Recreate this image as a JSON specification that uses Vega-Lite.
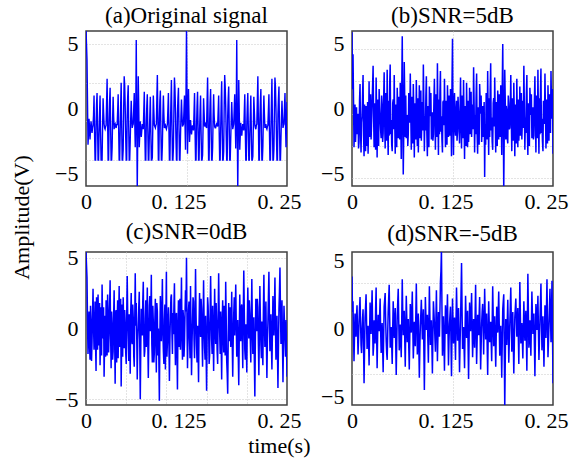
{
"$schema": "https://vega.github.io/schema/vega-lite/v6.json",
"background": "white",
"padding": {"left": 10, "top": 4, "right": 5, "bottom": 5},
"title": {"text": "Amplitude(V)", "orient": "left", "anchor": "middle", "fontSize": 22, "offset": 20, "dx": 13},
"data": {"values": [
{"t":0,"a":6.2,"b":5.9,"c":5.4,"d":3.8},
{"t":0.000625,"a":5.0,"b":1.5,"c":4.5,"d":1.2},
{"t":0.00125,"a":3.8,"b":4.2,"c":3.6,"d":2.0},
{"t":0.001875,"a":0.5,"b":0.8,"c":0.5,"d":-0.6},
{"t":0.0025,"a":-2.8,"b":-3.0,"c":-1.8,"d":-2.4},
{"t":0.003125,"a":-2.0,"b":-1.2,"c":-0.4,"d":-0.5},
{"t":0.00375,"a":-0.8,"b":0.3,"c":1.2,"d":1.1},
{"t":0.004375,"a":-1.5,"b":-2.6,"c":-1.0,"d":0.2},
{"t":0.005,"a":-2.4,"b":-1.5,"c":-2.2,"d":-0.6},
{"t":0.005625,"a":-1.6,"b":0.1,"c":1.6,"d":0.9},
{"t":0.00625,"a":-1.0,"b":-2.0,"c":0.4,"d":1.7},
{"t":0.006875,"a":-1.4,"b":-0.9,"c":-2.3,"d":-0.2},
{"t":0.0075,"a":-1.9,"b":-0.4,"c":-0.9,"d":-1.9},
{"t":0.008125,"a":-1.5,"b":-3.1,"c":1.0,"d":-0.8},
{"t":0.00875,"a":-1.3,"b":-2.6,"c":2.8,"d":0.5},
{"t":0.009375,"a":-0.5,"b":0.6,"c":0.2,"d":1.5},
{"t":0.01,"a":1.0,"b":1.9,"c":-1.5,"d":2.3},
{"t":0.010625,"a":-1.8,"b":-1.8,"c":-0.2,"d":0.5},
{"t":0.01125,"a":-4.0,"b":-3.4,"c":1.9,"d":-1.2},
{"t":0.011875,"a":-4.0,"b":-1.1,"c":-1.0,"d":-1.8},
{"t":0.0125,"a":-1.5,"b":-0.6,"c":-3.0,"d":-0.3},
{"t":0.013125,"a":0.3,"b":0.9,"c":2.2,"d":0.7},
{"t":0.01375,"a":1.2,"b":2.6,"c":0.6,"d":1.4},
{"t":0.014375,"a":-1.5,"b":-2.0,"c":-1.5,"d":-1.4},
{"t":0.015,"a":-4.0,"b":-3.7,"c":2.4,"d":-4.0},
{"t":0.015625,"a":-4.0,"b":0.3,"c":0.1,"d":-1.5},
{"t":0.01625,"a":-2.0,"b":-1.2,"c":-1.2,"d":0.8},
{"t":0.016875,"a":-0.3,"b":-3.3,"c":1.8,"d":1.6},
{"t":0.0175,"a":1.0,"b":0.2,"c":-2.6,"d":2.5},
{"t":0.018125,"a":-1.8,"b":-1.0,"c":-0.6,"d":0.4},
{"t":0.01875,"a":-4.0,"b":-2.9,"c":1.5,"d":-1.5},
{"t":0.019375,"a":-4.0,"b":0.5,"c":-1.9,"d":-0.7},
{"t":0.02,"a":-4.0,"b":-3.5,"c":3.1,"d":0.2},
{"t":0.020625,"a":-1.5,"b":-1.4,"c":0.8,"d":-1.0},
{"t":0.02125,"a":0.8,"b":2.1,"c":-0.7,"d":-2.7},
{"t":0.021875,"a":-0.3,"b":-2.2,"c":1.5,"d":-0.3},
{"t":0.0225,"a":-1.2,"b":-0.3,"c":-3.4,"d":1.9},
{"t":0.023125,"a":-1.5,"b":1.1,"c":-1.1,"d":0.8},
{"t":0.02375,"a":-1.6,"b":-2.4,"c":0.9,"d":-0.4},
{"t":0.024375,"a":-1.4,"b":-1.0,"c":-2.0,"d":1.2},
{"t":0.025,"a":-1.3,"b":0.4,"c":2.0,"d":2.8},
{"t":0.025625,"a":0.5,"b":1.8,"c":0.3,"d":0.3},
{"t":0.02625,"a":2.3,"b":3.3,"c":-1.9,"d":-2.0},
{"t":0.026875,"a":-1.0,"b":-0.6,"c":2.4,"d":-1.3},
{"t":0.0275,"a":-4.0,"b":-3.0,"c":1.1,"d":0.6},
{"t":0.028125,"a":-4.0,"b":0.4,"c":-1.7,"d":-0.2},
{"t":0.02875,"a":-1.0,"b":-1.9,"c":-0.3,"d":-1.1},
{"t":0.029375,"a":0.6,"b":-3.2,"c":1.6,"d":1.4},
{"t":0.03,"a":1.6,"b":2.4,"c":3.4,"d":3.0},
{"t":0.030625,"a":-1.5,"b":-0.4,"c":-0.5,"d":-0.4},
{"t":0.03125,"a":-4.0,"b":-3.8,"c":-2.8,"d":-2.9},
{"t":0.031875,"a":-4.0,"b":0.7,"c":1.2,"d":-0.6},
{"t":0.0325,"a":-3.0,"b":-1.6,"c":0.2,"d":1.0},
{"t":0.033125,"a":-0.8,"b":-2.9,"c":-2.2,"d":0.5},
{"t":0.03375,"a":0.9,"b":1.5,"c":-1.6,"d":-0.2},
{"t":0.034375,"a":-0.6,"b":0.2,"c":0.9,"d":1.0},
{"t":0.035,"a":-1.6,"b":-0.8,"c":2.7,"d":2.2},
{"t":0.035625,"a":-1.3,"b":-1.7,"c":-0.6,"d":-0.2},
{"t":0.03625,"a":-1.2,"b":-2.3,"c":-3.9,"d":-1.8},
{"t":0.036875,"a":-1.4,"b":1.0,"c":1.1,"d":-0.8},
{"t":0.0375,"a":-1.5,"b":0.2,"c":1.3,"d":0.4},
{"t":0.038125,"a":-1.2,"b":-2.6,"c":-2.4,"d":-1.5},
{"t":0.03875,"a":-1.3,"b":-1.9,"c":0.5,"d":-3.2},
{"t":0.039375,"a":-0.2,"b":0.8,"c":2.0,"d":-0.6},
{"t":0.04,"a":1.1,"b":2.8,"c":-2.1,"d":1.6},
{"t":0.040625,"a":-1.6,"b":-0.9,"c":0.6,"d":2.1},
{"t":0.04125,"a":-4.0,"b":-3.1,"c":3.0,"d":2.6},
{"t":0.041875,"a":-4.0,"b":1.2,"c":-1.3,"d":0.6},
{"t":0.0425,"a":-1.8,"b":-0.7,"c":-0.8,"d":-0.9},
{"t":0.043125,"a":0.3,"b":-2.5,"c":2.1,"d":-1.8},
{"t":0.04375,"a":2.0,"b":3.0,"c":-4.1,"d":-2.3},
{"t":0.044375,"a":-1.2,"b":-1.4,"c":-0.5,"d":-0.5},
{"t":0.045,"a":-4.0,"b":-3.6,"c":1.7,"d":1.2},
{"t":0.045625,"a":-4.0,"b":0.6,"c":-2.0,"d":2.2},
{"t":0.04625,"a":-3.2,"b":-2.1,"c":2.2,"d":3.2},
{"t":0.046875,"a":0.0,"b":1.9,"c":0.4,"d":0.8},
{"t":0.0475,"a":2.5,"b":3.4,"c":-1.4,"d":-1.4},
{"t":0.048125,"a":1.8,"b":-2.0,"c":1.3,"d":-0.7},
{"t":0.04875,"a":0.2,"b":-0.9,"c":0.3,"d":0.1},
{"t":0.049375,"a":-2.2,"b":-2.8,"c":-1.7,"d":-1.2},
{"t":0.05,"a":-4.0,"b":-3.3,"c":-2.5,"d":-2.6},
{"t":0.050625,"a":-4.0,"b":0.4,"c":0.9,"d":-0.1},
{"t":0.05125,"a":-0.5,"b":0.7,"c":3.7,"d":2.0},
{"t":0.051875,"a":0.9,"b":-1.6,"c":1.0,"d":0.6},
{"t":0.0525,"a":1.8,"b":2.6,"c":-0.6,"d":-0.7},
{"t":0.053125,"a":-1.4,"b":-0.8,"c":-2.3,"d":0.4},
{"t":0.05375,"a":-4.0,"b":-3.5,"c":1.0,"d":1.5},
{"t":0.054375,"a":-4.0,"b":0.3,"c":-0.2,"d":-1.1},
{"t":0.055,"a":-2.5,"b":-1.1,"c":-3.2,"d":-3.4},
{"t":0.055625,"a":-0.8,"b":-3.0,"c":1.2,"d":-1.2},
{"t":0.05625,"a":0.6,"b":1.6,"c":2.5,"d":0.9},
{"t":0.056875,"a":-0.6,"b":-0.2,"c":-0.8,"d":1.9},
{"t":0.0575,"a":-1.5,"b":-2.3,"c":-1.1,"d":2.9},
{"t":0.058125,"a":-1.3,"b":0.9,"c":1.7,"d":0.6},
{"t":0.05875,"a":-1.2,"b":-0.1,"c":0.8,"d":-1.6},
{"t":0.059375,"a":0.0,"b":-2.4,"c":-1.9,"d":-0.8},
{"t":0.06,"a":1.2,"b":2.0,"c":-2.7,"d":0.3},
{"t":0.060625,"a":-1.0,"b":-0.7,"c":0.6,"d":-1.0},
{"t":0.06125,"a":-3.0,"b":-3.9,"c":3.9,"d":-2.1},
{"t":0.061875,"a":-0.5,"b":1.4,"c":0.2,"d":0.7},
{"t":0.0625,"a":5.3,"b":5.6,"c":1.8,"d":3.6},
{"t":0.063125,"a":-1.0,"b":-0.3,"c":-0.6,"d":1.2},
{"t":0.06375,"a":-6.3,"b":-5.1,"c":-3.6,"d":-0.5},
{"t":0.064375,"a":-2.0,"b":-1.9,"c":-0.8,"d":0.3},
{"t":0.065,"a":2.5,"b":3.6,"c":0.1,"d":1.3},
{"t":0.065625,"a":0.0,"b":0.5,"c":1.5,"d":-0.9},
{"t":0.06625,"a":-3.0,"b":-2.2,"c":2.6,"d":-2.8},
{"t":0.066875,"a":-2.0,"b":1.0,"c":-1.2,"d":-0.1},
{"t":0.0675,"a":-1.0,"b":-2.3,"c":-5.0,"d":2.4},
{"t":0.068125,"a":-1.6,"b":-0.7,"c":-1.4,"d":0.8},
{"t":0.06875,"a":-2.2,"b":-0.5,"c":1.4,"d":-1.0},
{"t":0.069375,"a":-1.7,"b":-2.9,"c":0.7,"d":-0.2},
{"t":0.07,"a":-1.2,"b":-2.0,"c":-0.5,"d":0.7},
{"t":0.070625,"a":-1.4,"b":1.2,"c":1.9,"d":-1.4},
{"t":0.07125,"a":-1.6,"b":0.3,"c":3.3,"d":-3.0},
{"t":0.071875,"a":-0.2,"b":-1.1,"c":-0.4,"d":-0.6},
{"t":0.0725,"a":1.3,"b":2.7,"c":-2.0,"d":1.8},
{"t":0.073125,"a":-1.6,"b":-0.5,"c":-1.6,"d":0.7},
{"t":0.07375,"a":-4.0,"b":-3.2,"c":0.7,"d":-0.3},
{"t":0.074375,"a":-4.0,"b":0.9,"c":2.0,"d":1.3},
{"t":0.075,"a":-1.2,"b":-0.4,"c":-1.3,"d":2.7},
{"t":0.075625,"a":0.2,"b":-2.7,"c":0.8,"d":0.1},
{"t":0.07625,"a":1.1,"b":1.9,"c":2.9,"d":-2.2},
{"t":0.076875,"a":-1.6,"b":-0.2,"c":-0.9,"d":-0.9},
{"t":0.0775,"a":-4.0,"b":-3.8,"c":-3.5,"d":0.5},
{"t":0.078125,"a":-4.0,"b":0.4,"c":-0.7,"d":-0.5},
{"t":0.07875,"a":-2.2,"b":-1.0,"c":1.6,"d":-1.3},
{"t":0.079375,"a":-0.5,"b":-2.4,"c":2.3,"d":1.0},
{"t":0.08,"a":0.9,"b":2.2,"c":-0.2,"d":3.3},
{"t":0.080625,"a":-1.7,"b":-0.6,"c":1.0,"d":0.6},
{"t":0.08125,"a":-4.0,"b":-2.9,"c":3.8,"d":-1.9},
{"t":0.081875,"a":-4.0,"b":0.8,"c":-1.1,"d":-0.4},
{"t":0.0825,"a":-3.8,"b":-3.4,"c":-2.4,"d":1.1},
{"t":0.083125,"a":-1.3,"b":-1.0,"c":1.6,"d":-1.3},
{"t":0.08375,"a":1.0,"b":1.8,"c":0.4,"d":-3.6},
{"t":0.084375,"a":-0.2,"b":-2.3,"c":-2.4,"d":-1.5},
{"t":0.085,"a":-1.3,"b":-0.2,"c":-1.7,"d":0.2},
{"t":0.085625,"a":-1.4,"b":1.4,"c":0.5,"d":1.1},
{"t":0.08625,"a":-1.5,"b":-2.5,"c":2.1,"d":2.1},
{"t":0.086875,"a":-1.3,"b":-0.9,"c":-0.8,"d":0.6},
{"t":0.0875,"a":-1.2,"b":0.5,"c":-3.1,"d":-0.8},
{"t":0.088125,"a":0.8,"b":-1.7,"c":1.8,"d":0.3},
{"t":0.08875,"a":2.6,"b":3.4,"c":1.2,"d":1.4},
{"t":0.089375,"a":-0.8,"b":0.3,"c":-1.9,"d":-1.5},
{"t":0.09,"a":-4.0,"b":-3.3,"c":0.0,"d":-4.5},
{"t":0.090625,"a":-4.0,"b":-0.6,"c":-2.2,"d":-1.2},
{"t":0.09125,"a":-0.8,"b":-1.7,"c":-5.1,"d":2.3},
{"t":0.091875,"a":0.6,"b":0.9,"c":-0.6,"d":1.0},
{"t":0.0925,"a":1.4,"b":2.5,"c":2.3,"d":-0.1},
{"t":0.093125,"a":-1.6,"b":-1.9,"c":0.4,"d":0.5},
{"t":0.09375,"a":-4.0,"b":-3.7,"c":-0.9,"d":1.0},
{"t":0.094375,"a":-4.0,"b":0.2,"c":1.3,"d":-0.9},
{"t":0.095,"a":-2.8,"b":-1.5,"c":3.5,"d":-2.5},
{"t":0.095625,"a":-0.6,"b":-3.0,"c":-0.2,"d":0.3},
{"t":0.09625,"a":1.0,"b":1.7,"c":-1.6,"d":3.1},
{"t":0.096875,"a":-0.5,"b":0.5,"c":-2.5,"d":0.9},
{"t":0.0975,"a":-1.5,"b":-0.6,"c":0.6,"d":-1.2},
{"t":0.098125,"a":-1.4,"b":1.2,"c":1.7,"d":-0.4},
{"t":0.09875,"a":-1.3,"b":-2.4,"c":-2.9,"d":0.6},
{"t":0.099375,"a":-1.5,"b":-1.3,"c":0.9,"d":-1.3},
{"t":0.1,"a":-1.6,"b":-0.3,"c":4.0,"d":-3.3},
{"t":0.100625,"a":-1.4,"b":-2.5,"c":-2.0,"d":-0.6},
{"t":0.10125,"a":-1.2,"b":-2.0,"c":-1.0,"d":2.0},
{"t":0.101875,"a":0.0,"b":0.6,"c":0.4,"d":1.2},
{"t":0.1025,"a":1.2,"b":2.3,"c":1.5,"d":0.4},
{"t":0.103125,"a":-1.5,"b":-0.8,"c":-1.0,"d":-0.7},
{"t":0.10375,"a":-4.0,"b":-3.2,"c":-3.7,"d":-1.7},
{"t":0.104375,"a":-4.0,"b":1.1,"c":-0.8,"d":0.6},
{"t":0.105,"a":-1.5,"b":-0.8,"c":0.9,"d":2.8},
{"t":0.105625,"a":0.5,"b":-2.2,"c":2.2,"d":0.2},
{"t":0.10625,"a":2.2,"b":3.5,"c":2.4,"d":-2.4},
{"t":0.106875,"a":-1.0,"b":-0.4,"c":-0.3,"d":-0.6},
{"t":0.1075,"a":-4.0,"b":-3.6,"c":-1.8,"d":1.2},
{"t":0.108125,"a":-4.0,"b":0.7,"c":1.1,"d":0.3},
{"t":0.10875,"a":-3.0,"b":-2.0,"c":-0.4,"d":-0.6},
{"t":0.109375,"a":0.0,"b":1.3,"c":1.6,"d":1.3},
{"t":0.11,"a":2.4,"b":2.9,"c":3.2,"d":3.4},
{"t":0.110625,"a":1.6,"b":-1.8,"c":-0.5,"d":4.2},
{"t":0.11125,"a":0.0,"b":-0.6,"c":-2.6,"d":5.8},
{"t":0.111875,"a":-2.3,"b":-2.4,"c":0.9,"d":1.6},
{"t":0.1125,"a":-4.0,"b":-3.4,"c":1.1,"d":-2.0},
{"t":0.113125,"a":-4.0,"b":0.5,"c":-1.6,"d":-0.4},
{"t":0.11375,"a":-0.4,"b":0.6,"c":-4.3,"d":0.9},
{"t":0.114375,"a":0.8,"b":-1.3,"c":0.2,"d":-1.1},
{"t":0.115,"a":1.6,"b":2.3,"c":2.0,"d":-3.1},
{"t":0.115625,"a":-1.3,"b":-0.5,"c":-1.3,"d":-0.6},
{"t":0.11625,"a":-4.0,"b":-3.0,"c":0.3,"d":1.7},
{"t":0.116875,"a":-4.0,"b":0.6,"c":2.1,"d":0.8},
{"t":0.1175,"a":-2.2,"b":-1.4,"c":-1.5,"d":-0.4},
{"t":0.118125,"a":-0.6,"b":-2.8,"c":1.0,"d":1.0},
{"t":0.11875,"a":0.7,"b":1.8,"c":3.6,"d":2.5},
{"t":0.119375,"a":-0.5,"b":-0.3,"c":-0.4,"d":-0.1},
{"t":0.12,"a":-1.4,"b":-2.2,"c":-2.2,"d":-2.7},
{"t":0.120625,"a":-1.3,"b":1.0,"c":1.3,"d":-1.0},
{"t":0.12125,"a":-1.2,"b":0.2,"c":0.8,"d":0.3},
{"t":0.121875,"a":-0.1,"b":-2.1,"c":-2.0,"d":1.0},
{"t":0.1225,"a":1.0,"b":1.5,"c":-1.0,"d":1.6},
{"t":0.123125,"a":-1.1,"b":-0.9,"c":0.9,"d":-1.0},
{"t":0.12375,"a":-3.2,"b":-3.7,"c":2.7,"d":-3.5},
{"t":0.124375,"a":1.0,"b":1.8,"c":1.2,"d":-0.5},
{"t":0.125,"a":6.3,"b":5.4,"c":5.0,"d":2.2},
{"t":0.125625,"a":1.0,"b":-0.8,"c":0.4,"d":0.6},
{"t":0.12625,"a":-3.5,"b":-3.6,"c":-2.8,"d":-1.1},
{"t":0.126875,"a":-1.0,"b":0.3,"c":-0.6,"d":-0.2},
{"t":0.1275,"a":1.5,"b":1.2,"c":1.3,"d":0.8},
{"t":0.128125,"a":-0.6,"b":-1.5,"c":1.9,"d":-0.8},
{"t":0.12875,"a":-2.6,"b":-2.1,"c":-0.7,"d":-2.3},
{"t":0.129375,"a":-1.8,"b":-0.2,"c":-2.1,"d":0.4},
{"t":0.13,"a":-0.9,"b":0.6,"c":3.0,"d":3.0},
{"t":0.130625,"a":-1.4,"b":-2.5,"c":-0.2,"d":1.1},
{"t":0.13125,"a":-2.0,"b":-1.8,"c":-3.3,"d":-0.9},
{"t":0.131875,"a":-1.6,"b":0.9,"c":-1.0,"d":0.3},
{"t":0.1325,"a":-1.3,"b":-0.2,"c":0.5,"d":1.5},
{"t":0.133125,"a":-1.5,"b":-1.4,"c":2.2,"d":-0.9},
{"t":0.13375,"a":-1.7,"b":-2.7,"c":1.9,"d":-3.2},
{"t":0.134375,"a":-0.3,"b":-0.4,"c":-0.8,"d":-1.3},
{"t":0.135,"a":1.2,"b":2.4,"c":-2.1,"d":0.6},
{"t":0.135625,"a":-1.7,"b":-1.1,"c":0.7,"d":2.6},
{"t":0.13625,"a":-4.0,"b":-3.1,"c":4.2,"d":4.8},
{"t":0.136875,"a":-4.0,"b":1.0,"c":1.0,"d":1.5},
{"t":0.1375,"a":-1.4,"b":-0.5,"c":-1.2,"d":-1.5},
{"t":0.138125,"a":0.2,"b":-2.3,"c":-2.4,"d":-0.6},
{"t":0.13875,"a":1.3,"b":2.2,"c":0.2,"d":0.1},
{"t":0.139375,"a":-1.4,"b":-0.7,"c":-1.5,"d":-1.4},
{"t":0.14,"a":-4.0,"b":-3.9,"c":-3.8,"d":-2.9},
{"t":0.140625,"a":-4.0,"b":0.2,"c":0.3,"d":-0.2},
{"t":0.14125,"a":-1.8,"b":-0.9,"c":2.5,"d":2.4},
{"t":0.141875,"a":-0.2,"b":-2.9,"c":0.8,"d":0.9},
{"t":0.1425,"a":1.0,"b":2.0,"c":-0.6,"d":-0.7},
{"t":0.143125,"a":-1.8,"b":-0.5,"c":2.1,"d":0.3},
{"t":0.14375,"a":-4.0,"b":-3.0,"c":1.4,"d":1.3},
{"t":0.144375,"a":-4.0,"b":0.6,"c":-0.7,"d":-1.2},
{"t":0.145,"a":-3.6,"b":-2.6,"c":-2.7,"d":-3.7},
{"t":0.145625,"a":-1.4,"b":-1.2,"c":0.5,"d":-0.9},
{"t":0.14625,"a":0.8,"b":1.6,"c":3.4,"d":1.9},
{"t":0.146875,"a":-0.3,"b":-2.0,"c":0.6,"d":0.8},
{"t":0.1475,"a":-1.4,"b":-0.2,"c":-1.4,"d":-0.2},
{"t":0.148125,"a":-1.3,"b":1.3,"c":-2.2,"d":1.1},
{"t":0.14875,"a":-1.2,"b":-2.2,"c":0.9,"d":2.6},
{"t":0.149375,"a":-1.4,"b":-0.8,"c":-1.6,"d":0.2},
{"t":0.15,"a":-1.5,"b":0.3,"c":-4.4,"d":-2.1},
{"t":0.150625,"a":0.6,"b":-1.6,"c":-0.7,"d":-0.7},
{"t":0.15125,"a":2.4,"b":3.2,"c":2.2,"d":0.7},
{"t":0.151875,"a":-0.9,"b":0.4,"c":1.6,"d":-0.3},
{"t":0.1525,"a":-4.0,"b":-3.4,"c":0.1,"d":-1.4},
{"t":0.153125,"a":-4.0,"b":-0.5,"c":-2.5,"d":0.9},
{"t":0.15375,"a":-1.1,"b":-2.0,"c":-1.9,"d":3.2},
{"t":0.154375,"a":0.5,"b":1.0,"c":1.0,"d":0.1},
{"t":0.155,"a":1.5,"b":2.7,"c":3.7,"d":-2.6},
{"t":0.155625,"a":-1.5,"b":-2.0,"c":1.1,"d":-0.9},
{"t":0.15625,"a":-4.0,"b":-3.5,"c":-0.8,"d":1.0},
{"t":0.156875,"a":-4.0,"b":0.1,"c":-1.8,"d":0.2},
{"t":0.1575,"a":-3.0,"b":-1.8,"c":1.6,"d":-0.5},
{"t":0.158125,"a":-0.7,"b":-2.8,"c":-0.4,"d":1.0},
{"t":0.15875,"a":1.1,"b":1.9,"c":-3.0,"d":2.3},
{"t":0.159375,"a":-0.5,"b":0.7,"c":0.0,"d":-0.4},
{"t":0.16,"a":-1.4,"b":-0.4,"c":2.8,"d":-3.0},
{"t":0.160625,"a":-1.5,"b":1.0,"c":0.6,"d":-1.3},
{"t":0.16125,"a":-1.5,"b":-2.6,"c":-1.1,"d":0.4},
{"t":0.161875,"a":-1.3,"b":-1.5,"c":1.8,"d":1.2},
{"t":0.1625,"a":-1.2,"b":0.2,"c":0.4,"d":1.8},
{"t":0.163125,"a":-1.3,"b":-2.2,"c":-1.6,"d":0.1},
{"t":0.16375,"a":-1.4,"b":-1.0,"c":-2.5,"d":-1.9},
{"t":0.164375,"a":-0.2,"b":0.5,"c":0.9,"d":0.4},
{"t":0.165,"a":1.0,"b":-5.3,"c":3.9,"d":2.9},
{"t":0.165625,"a":-1.7,"b":-1.2,"c":1.2,"d":1.0},
{"t":0.16625,"a":-4.0,"b":-2.8,"c":-0.3,"d":-0.8},
{"t":0.166875,"a":-4.0,"b":1.2,"c":-1.8,"d":0.2},
{"t":0.1675,"a":-1.7,"b":0.1,"c":1.2,"d":1.1},
{"t":0.168125,"a":0.4,"b":-2.4,"c":-1.0,"d":-1.2},
{"t":0.16875,"a":2.1,"b":2.9,"c":-3.6,"d":-3.4},
{"t":0.169375,"a":-1.1,"b":-0.6,"c":0.4,"d":-0.6},
{"t":0.17,"a":-4.0,"b":-3.6,"c":2.0,"d":2.0},
{"t":0.170625,"a":-4.0,"b":0.8,"c":-0.2,"d":0.5},
{"t":0.17125,"a":-3.3,"b":-2.2,"c":-1.7,"d":-1.0},
{"t":0.171875,"a":0.1,"b":1.4,"c":1.6,"d":-0.2},
{"t":0.1725,"a":2.6,"b":3.5,"c":0.7,"d":0.5},
{"t":0.173125,"a":1.7,"b":-1.7,"c":-1.9,"d":-1.0},
{"t":0.17375,"a":0.3,"b":-0.7,"c":3.3,"d":-2.4},
{"t":0.174375,"a":-2.1,"b":-2.6,"c":0.8,"d":0.4},
{"t":0.175,"a":-4.0,"b":-3.2,"c":-2.3,"d":3.1},
{"t":0.175625,"a":-4.0,"b":0.4,"c":-3.2,"d":0.9},
{"t":0.17625,"a":-0.6,"b":0.8,"c":-4.6,"d":-1.3},
{"t":0.176875,"a":0.8,"b":-1.4,"c":-0.8,"d":-0.3},
{"t":0.1775,"a":1.7,"b":2.4,"c":1.8,"d":0.9},
{"t":0.178125,"a":-1.3,"b":-0.3,"c":-0.9,"d":-1.0},
{"t":0.17875,"a":-4.0,"b":-3.4,"c":0.2,"d":-2.8},
{"t":0.179375,"a":-4.0,"b":0.5,"c":1.5,"d":-0.6},
{"t":0.18,"a":-2.4,"b":-1.3,"c":-1.3,"d":1.6},
{"t":0.180625,"a":-0.9,"b":-2.9,"c":0.3,"d":0.7},
{"t":0.18125,"a":0.5,"b":1.4,"c":2.6,"d":-0.3},
{"t":0.181875,"a":-0.7,"b":-0.1,"c":-0.9,"d":1.2},
{"t":0.1825,"a":-1.6,"b":-2.4,"c":-3.4,"d":2.7},
{"t":0.183125,"a":-1.4,"b":1.1,"c":-0.7,"d":0.3},
{"t":0.18375,"a":-1.2,"b":0.0,"c":1.0,"d":-2.0},
{"t":0.184375,"a":0.0,"b":-2.2,"c":2.2,"d":-0.9},
{"t":0.185,"a":1.1,"b":1.8,"c":-0.5,"d":0.2},
{"t":0.185625,"a":-1.0,"b":-0.7,"c":1.3,"d":-1.6},
{"t":0.18625,"a":-3.1,"b":-3.6,"c":3.1,"d":-3.6},
{"t":0.186875,"a":-0.4,"b":1.6,"c":0.4,"d":-1.0},
{"t":0.1875,"a":5.3,"b":5.0,"c":-2.0,"d":1.4},
{"t":0.188125,"a":-1.2,"b":-0.4,"c":-0.8,"d":2.0},
{"t":0.18875,"a":-6.3,"b":-6.3,"c":0.6,"d":2.5},
{"t":0.189375,"a":-2.1,"b":-1.8,"c":-1.9,"d":-1.6},
{"t":0.19,"a":2.2,"b":3.0,"c":-4.0,"d":-5.8},
{"t":0.190625,"a":-0.3,"b":0.6,"c":-0.6,"d":-2.4},
{"t":0.19125,"a":-3.2,"b":-2.4,"c":2.4,"d":0.7},
{"t":0.191875,"a":-2.1,"b":0.2,"c":0.5,"d":-0.3},
{"t":0.1925,"a":-1.1,"b":-0.2,"c":-0.9,"d":-1.2},
{"t":0.193125,"a":-1.7,"b":-2.3,"c":1.5,"d":0.5},
{"t":0.19375,"a":-2.1,"b":-2.7,"c":1.7,"d":2.1},
{"t":0.194375,"a":-1.6,"b":1.0,"c":-0.5,"d":0.0},
{"t":0.195,"a":-1.2,"b":0.4,"c":-2.8,"d":-2.5},
{"t":0.195625,"a":-1.5,"b":-1.6,"c":1.0,"d":-1.0},
{"t":0.19625,"a":-1.7,"b":-1.5,"c":4.1,"d":0.3},
{"t":0.196875,"a":-0.3,"b":-0.2,"c":1.3,"d":1.6},
{"t":0.1975,"a":1.1,"b":2.6,"c":-1.5,"d":3.0},
{"t":0.198125,"a":-1.7,"b":-0.9,"c":-2.2,"d":0.7},
{"t":0.19875,"a":-4.0,"b":-3.3,"c":0.3,"d":-1.7},
{"t":0.199375,"a":-4.0,"b":0.8,"c":-1.2,"d":-0.3},
{"t":0.2,"a":-1.3,"b":-0.4,"c":-3.1,"d":1.2},
{"t":0.200625,"a":0.1,"b":-2.5,"c":0.4,"d":-1.1},
{"t":0.20125,"a":1.2,"b":2.0,"c":2.9,"d":-3.3},
{"t":0.201875,"a":-1.5,"b":-0.4,"c":0.8,"d":-1.2},
{"t":0.2025,"a":-4.0,"b":-3.7,"c":-0.7,"d":0.8},
{"t":0.203125,"a":-4.0,"b":0.3,"c":2.0,"d":1.5},
{"t":0.20375,"a":-2.0,"b":-1.1,"c":1.1,"d":2.2},
{"t":0.204375,"a":-0.4,"b":-2.7,"c":-0.9,"d":0.8},
{"t":0.205,"a":1.0,"b":2.3,"c":-2.4,"d":-0.6},
{"t":0.205625,"a":-1.7,"b":-0.8,"c":0.6,"d":0.5},
{"t":0.20625,"a":-4.0,"b":-3.0,"c":3.5,"d":1.5},
{"t":0.206875,"a":-4.0,"b":0.7,"c":0.4,"d":-0.6},
{"t":0.2075,"a":-3.7,"b":-2.5,"c":-1.8,"d":-2.6},
{"t":0.208125,"a":-1.4,"b":-1.1,"c":-0.3,"d":0.4},
{"t":0.20875,"a":0.9,"b":1.7,"c":0.8,"d":3.4},
{"t":0.209375,"a":-0.2,"b":-2.1,"c":-2.2,"d":1.2},
{"t":0.21,"a":-1.3,"b":-0.3,"c":-4.8,"d":-1.1},
{"t":0.210625,"a":-1.5,"b":1.2,"c":-1.0,"d":-0.3},
{"t":0.21125,"a":-1.6,"b":-2.4,"c":2.1,"d":0.4},
{"t":0.211875,"a":-1.3,"b":-0.9,"c":0.9,"d":-0.9},
{"t":0.2125,"a":-1.2,"b":0.6,"c":-0.2,"d":-2.2},
{"t":0.213125,"a":0.7,"b":-1.5,"c":2.1,"d":-0.1},
{"t":0.21375,"a":2.5,"b":3.3,"c":1.5,"d":2.0},
{"t":0.214375,"a":-0.9,"b":0.2,"c":-1.0,"d":0.6},
{"t":0.215,"a":-4.0,"b":-3.2,"c":-3.3,"d":-0.9},
{"t":0.215625,"a":-4.0,"b":-0.7,"c":-0.4,"d":0.2},
{"t":0.21625,"a":-0.9,"b":-1.9,"c":3.0,"d":1.3},
{"t":0.216875,"a":0.5,"b":1.1,"c":0.8,"d":-0.9},
{"t":0.2175,"a":1.5,"b":2.6,"c":-1.0,"d":-3.1},
{"t":0.218125,"a":-1.5,"b":-1.8,"c":-2.1,"d":0.4},
{"t":0.21875,"a":-4.0,"b":-3.6,"c":0.5,"d":4.0},
{"t":0.219375,"a":-4.0,"b":0.4,"c":-1.5,"d":1.3},
{"t":0.22,"a":-2.9,"b":-1.7,"c":-2.6,"d":-1.4},
{"t":0.220625,"a":-0.6,"b":-2.9,"c":1.2,"d":-0.4},
{"t":0.22125,"a":1.0,"b":1.6,"c":3.8,"d":0.6},
{"t":0.221875,"a":-0.4,"b":0.6,"c":0.6,"d":-0.7},
{"t":0.2225,"a":-1.5,"b":-0.5,"c":-1.3,"d":-2.0},
{"t":0.223125,"a":-1.3,"b":1.1,"c":0.2,"d":0.4},
{"t":0.22375,"a":-1.2,"b":-2.3,"c":1.9,"d":2.7},
{"t":0.224375,"a":-1.5,"b":-1.4,"c":-1.1,"d":1.1},
{"t":0.225,"a":-1.6,"b":0.1,"c":-3.5,"d":-0.4},
{"t":0.225625,"a":-1.4,"b":-2.4,"c":-0.9,"d":0.4},
{"t":0.22625,"a":-1.3,"b":-2.1,"c":0.4,"d":1.1},
{"t":0.226875,"a":-0.1,"b":0.7,"c":2.2,"d":-1.2},
{"t":0.2275,"a":1.1,"b":2.5,"c":4.0,"d":-3.5},
{"t":0.228125,"a":-1.6,"b":-0.6,"c":0.9,"d":-0.8},
{"t":0.22875,"a":-4.0,"b":-3.4,"c":-1.6,"d":1.8},
{"t":0.229375,"a":-4.0,"b":1.0,"c":-0.4,"d":0.9},
{"t":0.23,"a":-1.6,"b":-0.6,"c":1.0,"d":-0.1},
{"t":0.230625,"a":0.4,"b":-2.3,"c":-1.2,"d":1.1},
{"t":0.23125,"a":2.3,"b":3.0,"c":-2.9,"d":2.4},
{"t":0.231875,"a":-1.0,"b":-0.5,"c":-0.2,"d":-0.1},
{"t":0.2325,"a":-4.0,"b":-3.5,"c":2.3,"d":-2.3},
{"t":0.233125,"a":-4.0,"b":0.8,"c":0.8,"d":-0.9},
{"t":0.23375,"a":-3.1,"b":-2.0,"c":-0.5,"d":0.5},
{"t":0.234375,"a":0.0,"b":1.2,"c":1.4,"d":1.9},
{"t":0.235,"a":2.4,"b":3.1,"c":3.6,"d":3.3},
{"t":0.235625,"a":1.7,"b":-1.9,"c":0.4,"d":0.8},
{"t":0.23625,"a":0.1,"b":-0.8,"c":-2.2,"d":-1.6},
{"t":0.236875,"a":-2.2,"b":-2.5,"c":-0.9,"d":-0.4},
{"t":0.2375,"a":-4.0,"b":-3.3,"c":0.9,"d":0.9},
{"t":0.238125,"a":-4.0,"b":0.6,"c":-1.6,"d":-0.9},
{"t":0.23875,"a":-0.5,"b":0.5,"c":-4.2,"d":-2.8},
{"t":0.239375,"a":0.8,"b":-1.2,"c":-1.2,"d":-0.5},
{"t":0.24,"a":1.7,"b":2.7,"c":1.4,"d":1.7},
{"t":0.240625,"a":-1.3,"b":-0.4,"c":2.6,"d":0.5},
{"t":0.24125,"a":-4.0,"b":-3.1,"c":4.3,"d":-0.7},
{"t":0.241875,"a":-4.0,"b":0.7,"c":1.2,"d":1.4},
{"t":0.2425,"a":-2.3,"b":-1.2,"c":-1.1,"d":3.6},
{"t":0.243125,"a":-0.7,"b":-2.7,"c":0.5,"d":0.7},
{"t":0.24375,"a":0.6,"b":1.8,"c":2.0,"d":-2.1},
{"t":0.244375,"a":-0.6,"b":-0.2,"c":-1.1,"d":-1.0},
{"t":0.245,"a":-1.5,"b":-2.5,"c":-3.8,"d":0.2},
{"t":0.245625,"a":-1.3,"b":1.1,"c":-0.8,"d":1.6},
{"t":0.24625,"a":-1.2,"b":0.3,"c":1.6,"d":2.9},
{"t":0.246875,"a":0.1,"b":-1.9,"c":0.3,"d":0.9},
{"t":0.2475,"a":1.2,"b":2.9,"c":-0.8,"d":-1.0},
{"t":0.248125,"a":-1.0,"b":0.4,"c":-2.0,"d":1.2},
{"t":0.24875,"a":-3.0,"b":-0.8,"c":0.6,"d":3.5},
{"t":0.249375,"a":-1.2,"b":1.5,"c":-1.4,"d":-0.3},
{"t":0.25,"a":0.5,"b":-3.5,"c":-3.4,"d":-4.0}
]},
"hconcat": [{
  "title": {"text": "time(s)", "orient": "bottom", "anchor": "middle", "fontSize": 22, "offset": 4, "dx": -32},
  "columns": 2,
  "spacing": {"row": 6, "column": 17},
  "concat": [
    {
      "width": 201, "height": 155,
      "title": {"text": "(a)Original signal", "offset": 3},
      "mark": {"type": "line", "color": "#0000ff", "strokeWidth": 1.4, "clip": true},
      "encoding": {
        "x": {"field": "t", "type": "quantitative", "title": null,
              "scale": {"domain": [0, 0.25], "nice": false, "zero": false},
              "axis": {"values": [0, 0.125, 0.25],
                       "labelExpr": "datum.value == 0 ? '0' : datum.value == 0.125 ? '0. 125' : datum.value == 0.25 ? '0. 25' : ''",
                       "labelOffset": {"condition": {"test": "datum.value == 0", "value": 0}, "value": -8},
                       "gridOpacity": {"condition": {"test": "datum.value == 0.125", "value": 1}, "value": 0}}},
        "y": {"field": "a", "type": "quantitative", "title": null,
              "scale": {"domain": [-6, 6], "nice": false, "zero": false},
              "axis": {"values": [-5, -4, -1, 0, 2, 5],
                       "labelExpr": "datum.value == 5 ? '5' : datum.value == 0 ? '0' : datum.value == -5 ? '\u22125' : ''",
                       "gridOpacity": {"condition": {"test": "datum.value == 0 || datum.value == -5", "value": 0}, "value": 1}}}
      }
    },
    {
      "width": 201, "height": 155,
      "title": {"text": "(b)SNR=5dB", "offset": 3},
      "mark": {"type": "line", "color": "#0000ff", "strokeWidth": 1.5, "clip": true},
      "encoding": {
        "x": {"field": "t", "type": "quantitative", "title": null,
              "scale": {"domain": [0, 0.25], "nice": false, "zero": false},
              "axis": {"values": [0, 0.125, 0.25],
                       "labelExpr": "datum.value == 0 ? '0' : datum.value == 0.125 ? '0. 125' : datum.value == 0.25 ? '0. 25' : ''",
                       "labelOffset": {"condition": {"test": "datum.value == 0", "value": 0}, "value": -7},
                       "gridOpacity": {"condition": {"test": "datum.value == 0.125", "value": 1}, "value": 0}}},
        "y": {"field": "b", "type": "quantitative", "title": null,
              "scale": {"domain": [-6, 6], "nice": false, "zero": false},
              "axis": {"values": [-5.4, -5, -2.9, -0.4, 0, 2.1, 4.6, 5],
                       "labelExpr": "datum.value == 5 ? '5' : datum.value == 0 ? '0' : datum.value == -5 ? '\u22125' : ''",
                       "gridOpacity": {"condition": {"test": "datum.value == 0 || abs(datum.value) == 5", "value": 0}, "value": 1}}}
      }
    },
    {
      "width": 201, "height": 153,
      "title": {"text": "(c)SNR=0dB", "offset": 3},
      "mark": {"type": "line", "color": "#0000ff", "strokeWidth": 1.5, "clip": true},
      "encoding": {
        "x": {"field": "t", "type": "quantitative", "title": null,
              "scale": {"domain": [0, 0.25], "nice": false, "zero": false},
              "axis": {"values": [0, 0.05, 0.1, 0.125, 0.15, 0.2, 0.25],
                       "labelExpr": "datum.value == 0 ? '0' : datum.value == 0.125 ? '0. 125' : datum.value == 0.25 ? '0. 25' : ''",
                       "labelOffset": {"condition": {"test": "datum.value == 0", "value": 0}, "value": -8},
                       "gridOpacity": {"condition": {"test": "datum.value == 0 || datum.value == 0.125 || datum.value == 0.25", "value": 0}, "value": 1}}},
        "y": {"field": "c", "type": "quantitative", "title": null,
              "scale": {"domain": [-5.4, 5.4], "nice": false, "zero": false},
              "axis": {"values": [-5, 0, 5],
                       "labelExpr": "datum.value == 5 ? '5' : datum.value == 0 ? '0' : datum.value == -5 ? '\u22125' : ''",
                       "gridOpacity": {"condition": {"test": "datum.value == 0", "value": 0}, "value": 1}}}
      }
    },
    {
      "width": 201, "height": 153,
      "title": {"text": "(d)SNR=-5dB", "offset": 3},
      "mark": {"type": "line", "color": "#0000ff", "strokeWidth": 1.5, "clip": true},
      "encoding": {
        "x": {"field": "t", "type": "quantitative", "title": null,
              "scale": {"domain": [0, 0.25], "nice": false, "zero": false},
              "axis": {"values": [0, 0.125, 0.25],
                       "labelExpr": "datum.value == 0 ? '0' : datum.value == 0.125 ? '0. 125' : datum.value == 0.25 ? '0. 25' : ''",
                       "labelOffset": {"condition": {"test": "datum.value == 0", "value": 0}, "value": -7},
                       "gridOpacity": {"condition": {"test": "datum.value == 0.125", "value": 1}, "value": 0}}},
        "y": {"field": "d", "type": "quantitative", "title": null,
              "scale": {"domain": [-5.6, 5.6], "nice": false, "zero": false},
              "axis": {"values": [-5, -3.3, 0, 3.3, 5],
                       "labelExpr": "datum.value == 5 ? '5' : datum.value == 0 ? '0' : datum.value == -5 ? '\u22125' : ''",
                       "gridOpacity": {"condition": {"test": "abs(datum.value) == 3.3", "value": 1}, "value": 0}}}
      }
    }
  ]
}],
"config": {
  "font": "Liberation Serif",
  "view": {"stroke": "#404040", "strokeWidth": 1.5},
  "title": {"font": "Liberation Serif", "fontSize": 23, "fontWeight": "normal", "color": "black"},
  "axis": {"labelFont": "Liberation Serif", "labelFontSize": 22, "labelColor": "black", "domain": false, "ticks": false,
           "labelFlush": false, "labelOverlap": false, "grid": true, "gridColor": "#c8c8c8", "gridDash": [1, 2], "gridWidth": 1},
  "axisX": {"labelPadding": 5},
  "axisY": {"labelPadding": 8}
}
}
